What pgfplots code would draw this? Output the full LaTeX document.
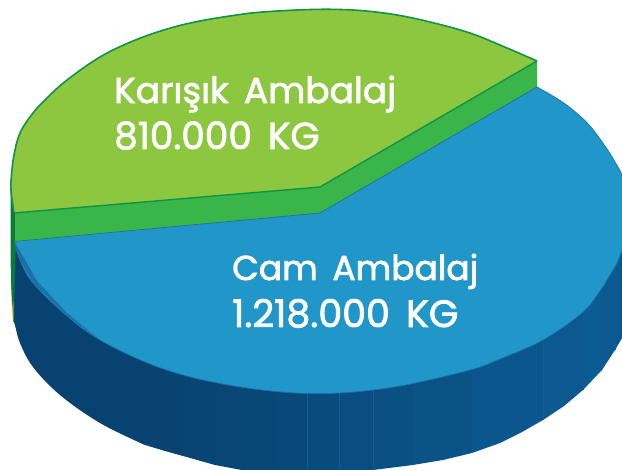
\documentclass[border=0pt]{standalone}
\usepackage{fontspec}
\usepackage{pgfplots}
\usepackage{pgfplotstable}
\pgfplotsset{compat=1.18}
\setmainfont[WordSpace=1.6,FakeBold=2]{Poppins}
\definecolor{lime}{RGB}{141,198,63}
\definecolor{limeline}{RGB}{15,148,73}
\definecolor{band}{RGB}{57,181,74}
\definecolor{darkgr}{RGB}{10,122,60}
\definecolor{olivec}{RGB}{110,140,40}
\definecolor{sky}{RGB}{33,150,201}
\definecolor{skyline}{RGB}{28,112,168}
\definecolor{sideL}{RGB}{8,66,112}
\definecolor{sideR}{RGB}{12,92,148}
\definecolor{seam}{RGB}{20,92,146}

% rim of the green slice, tip to tip
\pgfplotstableread{
x y
14 213
11 190
11.5 175
14 155
20 133
33 113
47 98
67 80
100 57
133 41
167 29
200 21
240 14.5
263 12
297 10
330 9.3
363 10.7
397 15
430 22
470 33
507 48
537 61
}\greenrim
% rim of the blue slice, right tip round to the left tip
\pgfplotstableread{
x y
537 87
557 98.5
573 110
590 126
607 149
615 162
622 175
628 195
630 215
628 235
622 250
617 263
607 280
602 288
583 312
543 340
500 359
472 369.5
413 383.5
373 390
339 393
307 393.5
276 391.5
247 388
215 382.5
183 375
145 362
100 340
67 316
33 283
20 260
14 241
}\bluerim
% lower outline of the left side panel
\pgfplotstableread{
x y
13 318
15 325
20 343
33 367
60 395
100 423
145 445
}\sideleft

\begin{document}
\begin{tikzpicture}
\begin{axis}[
  hide axis, scale only axis, width=622pt, height=470pt,
  xmin=0, xmax=622, ymin=0, ymax=470, y dir=reverse,
  enlargelimits=false, no markers,
  every axis plot/.append style={line join=round},
]
% outer side: faceted panels, left to right
\addplot[draw=none, fill=sideL, smooth, tension=0.6] table {\sideleft} --cycle;
\addplot[draw=none, fill=sideL] coordinates {(13,235)(145,350)(145,445)(100,420)(60,392)(33,364)(20,340)(13.5,320)} --cycle;
\addplot[draw=none, fill=sideR!5!sideL] coordinates {(145,350)(183,365)(183,456)(165,451)(145,445)} --cycle;
\addplot[draw=none, fill=sideR!10!sideL] coordinates {(183,365)(215,375)(215,465)(183,456)} --cycle;
\addplot[draw=none, fill=sideR!15!sideL] coordinates {(215,375)(247,380)(247,471)(215,465)} --cycle;
\addplot[draw=none, fill=sideR!20!sideL] coordinates {(247,380)(276,385)(276,475)(247,471)} --cycle;
\addplot[draw=none, fill=sideR!28!sideL] coordinates {(276,385)(307,385)(307,476)(276,475)} --cycle;
\addplot[draw=none, fill=sideR!36!sideL] coordinates {(307,385)(339,385)(339,475)(307,476)} --cycle;
\addplot[draw=none, fill=sideR!44!sideL] coordinates {(339,385)(373,382)(373,470)(339,475)} --cycle;
\addplot[draw=none, fill=sideR!52!sideL] coordinates {(373,382)(413,375)(413,465)(373,470)} --cycle;
\addplot[draw=none, fill=sideR!65!sideL] coordinates {(413,375)(472,360)(472,453)(443,460)(413,465)} --cycle;
\addplot[draw=none, fill=sideR!80!sideL] coordinates {(472,360)(543,330)(543,420)(522,432)(500,443)(472,453)} --cycle;
\addplot[draw=none, fill=sideR!90!sideL] coordinates {(543,330)(583,300)(583,390)(564,406)(543,420)} --cycle;
\addplot[draw=none, fill=sideR] coordinates {(583,300)(602,280)(602,370)(583,390)} --cycle;
\addplot[draw=none, fill=sideR!92!sideL] coordinates {(602,280)(615,260)(615,350)(602,370)} --cycle;
\addplot[draw=none, fill=sideR!85!sideL] coordinates {(615,260)(630,230)(630,325)(622,338)(615,350)} --cycle;
% seams between the panels
\addplot[seam, line width=0.5pt] coordinates {(307,393)(307,476)};
\addplot[seam, line width=0.5pt] coordinates {(373,390)(373,470)};
\addplot[seam, line width=0.5pt] coordinates {(339,393)(339,475)};
\addplot[seam, line width=0.5pt] coordinates {(543,340)(543,420)};
\addplot[seam, line width=0.5pt] coordinates {(583,312)(583,390)};
\addplot[seam, line width=0.5pt] coordinates {(615,270)(615,350)};
% dark green sliver on the far left
\addplot[draw=none, fill=olivec] coordinates {(11,280)(14,280)(14,322)(13,322)} --cycle;
\addplot[draw=none, fill=darkgr] coordinates {(10.5,185)(16,213)(16,245)(14,300)(12,305)(10.5,260)} --cycle;
% blue slice: the part above the crease is hidden by the green slice
\addplot[draw=none, fill=sky, smooth, tension=0.6] table {\bluerim} --cycle;
\addplot[skyline, line width=0.7pt, smooth, tension=0.6] table {\bluerim};
% darker rim at the lower left of the blue slice
\addplot[draw=none, fill=skyline] coordinates {(14,241)(24,258)(37,281)(67,313)(100,340)(67,316)(33,283)(20,260)} --cycle;
% raised green slice: band, then top
\addplot[draw=none, fill=band] coordinates {(15,213)(320,187)(537,61)(537,87)(320,213)(15,242)} --cycle;
\addplot[skyline, line width=0.7pt] coordinates {(14,241.5)(320,213)(537,87)};
\addplot[draw=none, fill=lime, smooth, tension=0.6] table {\greenrim} --cycle;
\addplot[draw=none, fill=lime] coordinates {(14,213)(14,170)(40,110)(100,62)(200,25)(330,14)(430,27)(537,61)(320,187)} --cycle;
\addplot[limeline, line width=1.6pt, smooth, tension=0.6] table {\greenrim};
\addplot[limeline, line width=1.4pt] coordinates {(14,213)(320,187)(537,61)};
\node[white, anchor=base west, inner sep=0pt, font=\fontsize{36}{36}\selectfont] at (axis cs:114,103) {Karışık Ambalaj};
\node[white, anchor=base west, inner sep=0pt, font=\fontsize{37.5}{38}\selectfont] at (axis cs:114,149) {810.000 KG};
\node[white, anchor=base west, inner sep=0pt, font=\fontsize{34.5}{35}\selectfont] at (axis cs:232,280) {Cam Ambalaj};
\node[white, anchor=base west, inner sep=0pt, font=\fontsize{38}{38}\selectfont] at (axis cs:232,327) {1.218.000 KG};
\end{axis}
% page is the full 622x470 frame, not the clipped plots' outline
\pgfresetboundingbox
\path[use as bounding box] (0,0) rectangle (622pt,470pt);
\end{tikzpicture}
\end{document}
